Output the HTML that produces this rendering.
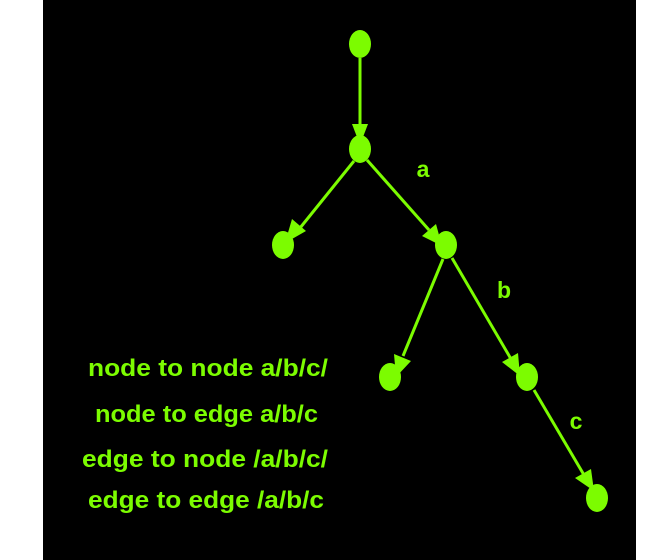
<!DOCTYPE html>
<html><head><style>
html,body{margin:0;padding:0;background:#fff;}
svg{display:block;}
text{font-family:"Liberation Sans",sans-serif;font-weight:bold;fill:#7cfc00;}
</style></head><body>
<svg width="653" height="560" viewBox="0 0 653 560">
<rect x="43" y="0" width="593" height="560" fill="#000"/>
<g fill="#7cfc00">
<line x1="360" y1="58" x2="360" y2="128" stroke="#7cfc00" stroke-width="3"/>
<path d="M352,124 L368,124 L360,145 z"/>
<line x1="354" y1="161" x2="300" y2="228" stroke="#7cfc00" stroke-width="3"/>
<path d="M292,219 L306,231 L285,243 z"/>
<line x1="367" y1="160" x2="429" y2="230" stroke="#7cfc00" stroke-width="3"/>
<path d="M422,236 L436,224 L442,246 z"/>
<line x1="443" y1="259" x2="403" y2="356" stroke="#7cfc00" stroke-width="3"/>
<path d="M394,354 L411,361 L396,377 z"/>
<line x1="452" y1="258" x2="511" y2="359" stroke="#7cfc00" stroke-width="3"/>
<path d="M502,362 L518,353 L520,376 z"/>
<line x1="534" y1="390" x2="584" y2="475" stroke="#7cfc00" stroke-width="3"/>
<path d="M575,478 L591,469 L594,491 z"/>
<ellipse cx="360" cy="44" rx="11" ry="14"/>
<ellipse cx="360" cy="149" rx="11" ry="14"/>
<ellipse cx="283" cy="245" rx="11" ry="14"/>
<ellipse cx="446" cy="245" rx="11" ry="14"/>
<ellipse cx="390" cy="377" rx="11" ry="14"/>
<ellipse cx="527" cy="377" rx="11" ry="14"/>
<ellipse cx="597" cy="498" rx="11" ry="14"/>
</g>
<text x="423" y="177" font-size="23" text-anchor="middle">a</text>
<text x="504" y="298" font-size="23" text-anchor="middle">b</text>
<text x="576" y="429" font-size="23" text-anchor="middle">c</text>
<g font-size="24">
<text x="88" y="376" textLength="240" lengthAdjust="spacingAndGlyphs">node to node a/b/c/</text>
<text x="95" y="422" textLength="223" lengthAdjust="spacingAndGlyphs">node to edge a/b/c</text>
<text x="82" y="467" textLength="246" lengthAdjust="spacingAndGlyphs">edge to node /a/b/c/</text>
<text x="88" y="508" textLength="236" lengthAdjust="spacingAndGlyphs">edge to edge /a/b/c</text>
</g>
</svg>
</body></html>
